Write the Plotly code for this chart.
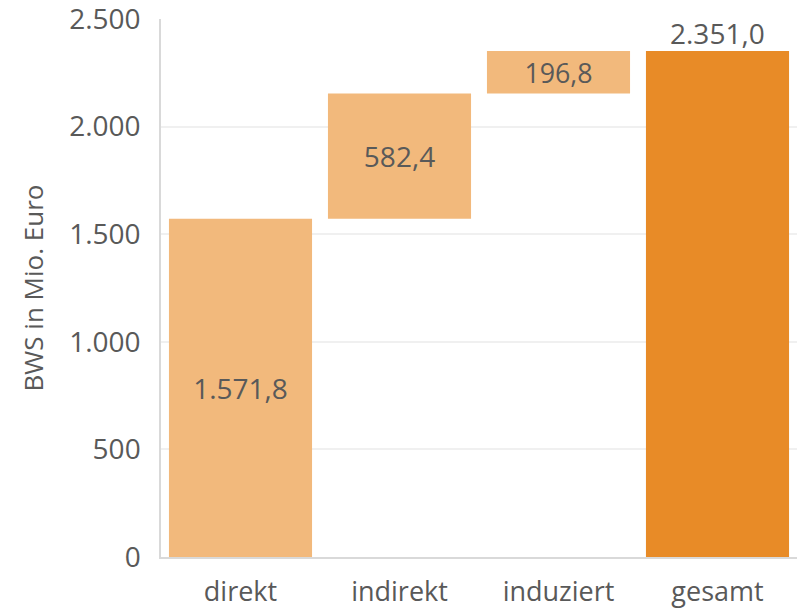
import plotly.graph_objects as go

LIGHT = "#F2B97C"
DARK = "#E88B27"
TEXT = "#595959"

categories = ["direkt", "indirekt", "induziert", "gesamt"]
values = [1571.8, 582.4, 196.8, 2351.0]
measures = ["relative", "relative", "relative", "total"]
y_ticks = [0, 500, 1000, 1500, 2000, 2500]


def de_num(v, decimals=1):
    s = f"{v:,.{decimals}f}"
    return s.replace(",", "X").replace(".", ",").replace("X", ".")


# labels inside the stacked parts; the total gets its own annotation above the bar
labels = [de_num(v) if m == "relative" else "" for v, m in zip(values, measures)]

fig = go.Figure(go.Waterfall(
    x=categories,
    y=[v if m == "relative" else 0 for v, m in zip(values, measures)],
    measure=measures,
    text=labels,
    textinfo="text",
    textposition="inside",
    insidetextanchor="middle",
    textfont=dict(size=28, color=TEXT),
    insidetextfont=dict(size=28, color=TEXT),
    increasing=dict(marker=dict(color=LIGHT, line=dict(width=0))),
    totals=dict(marker=dict(color=DARK, line=dict(width=0))),
    connector=dict(visible=False),
    cliponaxis=False,
    hoverinfo="skip",
))

for cat, v, m in zip(categories, values, measures):
    if m == "total":
        fig.add_annotation(x=cat, y=v, text=de_num(v), showarrow=False,
                           yanchor="bottom", yshift=-3,
                           font=dict(size=28, color=TEXT))

fig.update_layout(
    width=799, height=611,
    margin=dict(l=161, r=2, t=19, b=54),
    paper_bgcolor="white", plot_bgcolor="white",
    font=dict(family="Open Sans", color=TEXT),
    separators=",.",
    waterfallgap=0.1,
    showlegend=False,
    xaxis=dict(showline=True, linecolor="#D9D9D9", linewidth=1.5,
               tickfont=dict(size=27, color=TEXT), ticks="",
               ticklabelstandoff=10),
    yaxis=dict(range=[0, 2500], tickvals=y_ticks, tickformat=",d",
               showline=True, linecolor="#D9D9D9", linewidth=1.5,
               gridcolor="#F0F0F0", gridwidth=1.5, zeroline=False,
               tickfont=dict(size=28, color=TEXT), ticks="",
               ticklabelstandoff=13, ticklabeloverflow="allow",
               title=dict(text="BWS in Mio. Euro", font=dict(size=26, color=TEXT),
                          standoff=18),
               automargin=False),
)

# drop the default body margin so the chart fills the window exactly
fig.write_html("out.html", config={"displayModeBar": False},
               post_script="document.body.style.margin='0';")
